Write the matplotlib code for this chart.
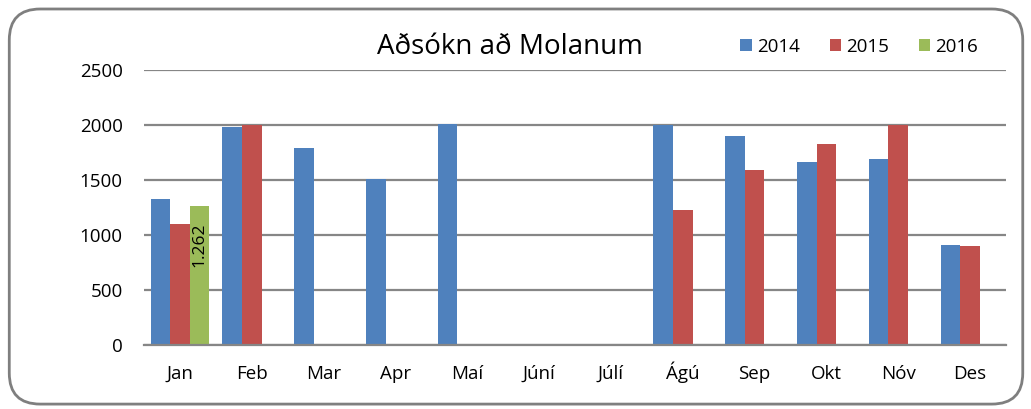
import numpy as np
import matplotlib
matplotlib.use("Agg")
import matplotlib.pyplot as plt
from matplotlib.patches import FancyBboxPatch

plt.rcParams['font.family'] = ['Open Sans', 'DejaVu Sans']

months = ['Jan', 'Feb', 'Mar', 'Apr', 'Maí', 'Júní', 'Júlí', 'Ágú', 'Sep', 'Okt', 'Nóv', 'Des']
y2014 = [1325, 1985, 1790, 1505, 2010, np.nan, np.nan, 2000, 1903, 1664, 1691, 905]
y2015 = [1103, 2000, np.nan, np.nan, np.nan, np.nan, np.nan, 1230, 1588, 1824, 2000, 903]
y2016 = [1262, np.nan, np.nan, np.nan, np.nan, np.nan, np.nan, np.nan, np.nan, np.nan, np.nan, np.nan]
series = [('2014', y2014, '#4F81BD'), ('2015', y2015, '#C0504D'), ('2016', y2016, '#9BBB59')]

fig = plt.figure(figsize=(10.31, 4.09), dpi=100)
frame = FancyBboxPatch((0.009, 0.012), 0.983, 0.966, boxstyle="round,pad=0,rounding_size=0.03",
                       transform=fig.transFigure, facecolor='white', edgecolor='#7f7f7f',
                       linewidth=2, mutation_aspect=1031/409, zorder=-1)
fig.patches.append(frame)

ax = fig.add_axes([0.1397, 0.1565, 0.836, 0.6724])
x = np.arange(len(months))
w = 0.273
for i, (name, vals, col) in enumerate(series):
    bars = ax.bar(x + (i - 1) * w, vals, w, color=col, label=name, zorder=3)
    if name == '2016':
        # data label inside the bar, near its top
        for b, v in zip(bars, vals):
            if not np.isnan(v):
                ax.annotate(f"{v/1000:.3f}", (b.get_x() + b.get_width() / 2, v),
                            xytext=(0, -12), textcoords='offset points',
                            rotation=90, ha='center', va='top', fontsize=12.5, zorder=4)

ax.set_xlim(-0.5, len(months) - 0.5)
ax.set_ylim(0, 2500)
ax.set_yticks(range(0, 2501, 500))
ax.set_xticks(x)
ax.set_xticklabels(months)
ax.yaxis.grid(True, color='#868686', linewidth=1.6, zorder=0)
ax.set_axisbelow(True)
for s in ['top', 'right', 'left']:
    ax.spines[s].set_visible(False)
ax.spines['bottom'].set_color('#868686')
ax.spines['bottom'].set_linewidth(1.6)
ax.spines['bottom'].set_zorder(5)
ax.tick_params(axis='both', length=0, labelsize=13.5)
ax.tick_params(axis='y', pad=15.5)
ax.tick_params(axis='x', pad=24.5)
for lab in ax.get_xticklabels():
    lab.set_va('baseline')
ax.set_facecolor('none')

fig.text(0.495, 0.885, 'Aðsókn að Molanum', fontsize=20, ha='center', va='center')
ax.legend(loc='center right', bbox_to_anchor=(0.9675, 1.084), ncol=3, frameon=False,
          fontsize=13.5, handlelength=0.62, handleheight=0.62, handletextpad=0.25,
          columnspacing=1.6, borderaxespad=0, borderpad=0)

fig.savefig('out.png', dpi=100)
